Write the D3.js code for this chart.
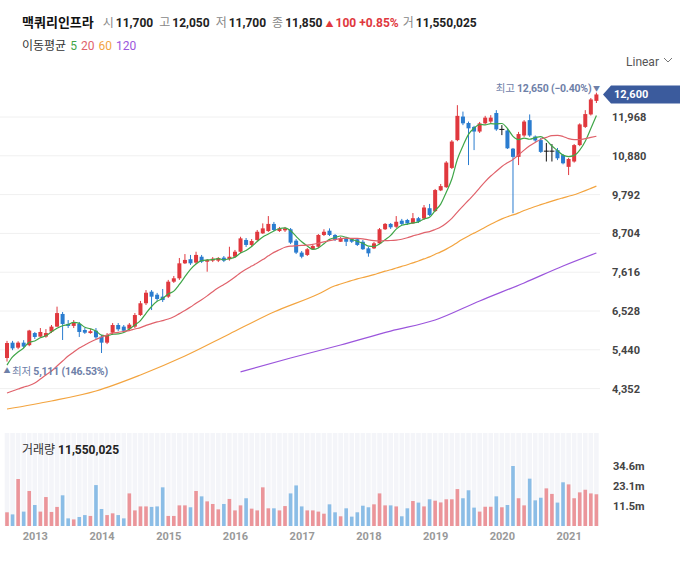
<!DOCTYPE html>
<html>
<head>
<meta charset="utf-8">
<script src="https://cdn.jsdelivr.net/npm/d3@7"></script>
<style>
  body { margin: 0; background: #fff; font-family: Roboto, "Noto Sans CJK KR", sans-serif; }
</style>
</head>
<body>
<div id="chart"></div>
<script>
// monthly candles, Aug 2012 .. Jun 2021
var firstMonth = new Date(2012, 7, 1);

// [open, high, low, close]
var candles = [
  [5210, 5690, 5111, 5630], [5640, 5690, 5430, 5480], [5500, 5680, 5460, 5640], [5640, 5710, 5490, 5530], [5570, 6000, 5540, 5980],
  // 2013
  [5910, 5940, 5745, 5800], [5810, 6050, 5785, 5940], [5810, 6020, 5780, 5910], [5950, 6135, 5910, 6090], [6090, 6650, 6080, 6470], [6445, 6500, 5715, 6165],
  [6165, 6275, 6050, 6110], [6110, 6275, 6050, 6220], [6165, 6220, 5800, 5940], [5995, 6050, 5885, 5920], [5910, 6030, 5890, 5960], [5975, 6050, 5745, 5790],
  // 2014
  [5810, 5855, 5350, 5640], [5640, 5910, 5600, 5855], [5920, 6190, 5855, 6135], [6135, 6190, 5965, 6015], [6090, 6135, 5940, 5975], [6030, 6190, 5995, 6145],
  [6090, 6470, 6050, 6415], [6415, 6810, 6390, 6745], [6745, 7115, 6695, 7040], [7070, 7115, 6555, 6930], [6985, 7035, 6810, 6865], [6930, 7145, 6780, 6835],
  // 2015
  [6930, 7400, 6895, 7350], [7350, 7510, 7315, 7445], [7445, 8015, 7400, 7865], [7865, 8125, 7845, 7960], [7980, 8100, 7820, 7865], [7885, 8190, 7845, 8100],
  [8050, 8100, 7875, 7910], [7910, 7985, 7630, 7960], [7940, 8040, 7900, 7995], [7940, 8040, 7900, 8015], [8025, 8070, 7900, 7940], [7980, 8330, 7940, 8050],
  // 2016
  [8050, 8240, 8015, 8190], [8190, 8610, 8155, 8565], [8520, 8575, 8325, 8380], [8380, 8545, 8325, 8490], [8520, 8800, 8490, 8750], [8705, 8985, 8690, 8845],
  [8770, 9190, 8745, 8970], [8970, 9025, 8770, 8800], [8770, 8885, 8745, 8845], [8790, 8885, 8745, 8845], [8820, 8855, 8405, 8445], [8500, 8545, 8125, 8165],
  // 2017
  [8165, 8210, 8005, 8050], [8100, 8295, 8070, 8260], [8260, 8380, 8240, 8350], [8330, 8685, 8295, 8660], [8660, 8820, 8630, 8750], [8780, 8845, 8630, 8660],
  [8660, 8685, 8490, 8520], [8470, 8605, 8465, 8565], [8565, 8605, 8350, 8470], [8540, 8575, 8435, 8470], [8540, 8575, 8350, 8380], [8470, 8520, 8240, 8260],
  // 2018
  [8285, 8325, 8050, 8145], [8285, 8465, 8265, 8425], [8425, 8855, 8405, 8820], [8820, 8995, 8800, 8970], [8970, 8995, 8830, 8875], [8890, 9190, 8855, 9030],
  [9060, 9110, 8940, 8970], [9080, 9110, 8940, 8985], [8985, 9275, 8970, 9130], [9130, 9165, 8995, 9030], [9120, 9500, 9080, 9430], [9410, 9530, 9190, 9220],
  // 2019
  [9330, 9950, 9305, 9920], [9910, 10090, 9890, 10030], [10000, 10730, 9980, 10690], [10540, 11320, 10510, 11280], [11320, 12300, 11290, 12000], [11980, 12120, 11740, 11790],
  [11800, 11840, 10620, 11650], [11690, 11720, 11040, 11560], [11560, 11830, 11520, 11790], [11790, 12000, 11760, 11950], [11840, 12020, 11800, 11950], [12080, 12160, 11580, 11620],
  // 2020
  [11620, 11740, 11460, 11620], [11590, 11630, 11070, 11090], [11080, 11100, 9270, 10850], [10850, 11550, 10620, 11490], [11450, 11880, 11410, 11840], [11880, 12040, 11410, 11450],
  [11420, 11450, 11270, 11310], [11320, 11380, 10960, 10990], [11010, 11240, 10720, 11010], [11010, 11210, 10720, 11010], [11040, 11100, 10760, 10810], [10900, 10930, 10640, 10670],
  // 2021
  [10570, 10820, 10340, 10790], [10720, 11210, 10690, 11180], [11180, 11790, 11150, 11760], [11690, 12160, 11660, 12050], [12040, 12500, 12010, 12460], [12420, 12650, 12360, 12600]
];

// volume in millions
var volumes = [
  7.9, 6.7, 27.1, 8.3, 20.2,
  12.1, 8.3, 16.7, 8.1, 11.0, 17.7, 4.4, 3.8, 5.2, 6.3, 5.8, 23.6,
  9.8, 6.3, 7.3, 6.3, 4.4, 18.8, 9.0, 11.3, 11.3, 11.0, 11.3, 22.3,
  5.8, 5.8, 11.9, 11.9, 10.8, 20.2, 17.1, 14.2, 12.7, 9.6, 12.7, 15.6,
  9.0, 11.9, 16.0, 10.0, 9.0, 22.3, 10.2, 10.2, 9.0, 11.5, 18.8, 23.4,
  11.3, 9.0, 9.0, 8.3, 7.1, 12.5, 7.9, 5.6, 10.2, 5.4, 7.9, 11.7,
  10.8, 12.5, 18.8, 11.9, 11.9, 11.3, 5.6, 10.2, 14.4, 13.5, 11.3, 15.4,
  14.6, 13.6, 15.4, 15.4, 21.3, 16.0, 20.6, 10.6, 8.3, 11.1, 11.1, 17.1,
  10.8, 12.1, 34.6, 16.0, 11.9, 27.3, 14.8, 16.3, 21.7, 18.5, 13.5, 25.2,
  24.0, 16.0, 19.4, 20.9, 18.8, 18.3
];

// moving-average values before enough bars are on screen
var ma5Head = [5010, 5240, 5380, 5490];
var ma20Head = [4230, 4285, 4340, 4395, 4440, 4510, 4620, 4735, 4845, 4985, 5125, 5265, 5380, 5490, 5575, 5660, 5730, 5800, 5855];
var ma60HeadBars = [0, 8, 16, 24, 32, 40, 48, 56];
var ma60HeadVals = [3780, 4005, 4285, 4735, 5265, 5885, 6500, 7005];
var ma120Bars = [42, 51, 60, 69, 77, 85, 93, 100, 106];
var ma120Vals = [4820, 5210, 5575, 5965, 6275, 6810, 7315, 7790, 8155];

var priceTicks = [4352, 5440, 6528, 7616, 8704, 9792, 10880, 11968];
var volumeTicks = [11.5, 23.1, 34.6];

var maNames = ["5", "20", "60", "120"];
var maColors = ["#3fa648", "#e0626b", "#f3a43f", "#9b55dc"];

var upColor = "#e0383e", downColor = "#2a7ccf";
var upVol = "#eb959a", downVol = "#8bbde6";

var W = 680, H = 571;
var svg = d3.select("#chart").append("svg").attr("width", W).attr("height", H)
  .style("font-family", 'Roboto, "Noto Sans CJK KR", sans-serif');

var n = candles.length;
var x = d3.scaleLinear().domain([0, n - 1]).range([7, 596.4]);
var y = d3.scaleLinear().domain([4352, 11968]).range([388.6, 117]);
var yv = d3.scaleLinear().domain([0, 34.6]).range([526, 466]);

// header
var head = svg.append("text").attr("x", 22).attr("y", 27).style("font-size", "12px");
head.append("tspan").text("맥쿼리인프라").style("font-weight", "bold").style("font-size", "13px").attr("fill", "#111");
[["시", "11,700"], ["고", "12,050"], ["저", "11,700"], ["종", "11,850"]].forEach(function(p, i) {
  head.append("tspan").attr("dx", i == 0 ? 9 : 6).attr("fill", "#888").text(p[0]);
  head.append("tspan").attr("dx", 2).attr("fill", "#222").style("font-weight", "bold").text(p[1]);
});
head.append("tspan").attr("dx", 3).attr("fill", upColor).style("font-size", "8px").text("▲");
head.append("tspan").attr("dx", 2).attr("fill", upColor).style("font-weight", "bold").text("100 +0.85%");
head.append("tspan").attr("dx", 4).attr("fill", "#888").text("거");
head.append("tspan").attr("dx", 2).attr("fill", "#222").style("font-weight", "bold").text("11,550,025");

// legend
var leg = svg.append("text").attr("x", 22).attr("y", 50).style("font-size", "12px");
leg.append("tspan").attr("fill", "#333").text("이동평균");
maNames.forEach(function(m, i) {
  leg.append("tspan").attr("dx", 4).attr("fill", maColors[i]).text(m);
});

// Linear selector
svg.append("text").attr("x", 626).attr("y", 66).style("font-size", "12px").attr("fill", "#555").text("Linear");
svg.append("path").attr("d", "M664,58 L668,62 L672,58").attr("fill", "none").attr("stroke", "#777").attr("stroke-width", 1);

// price grid
svg.append("g").selectAll("line").data(priceTicks).enter().append("line")
  .attr("x1", 0).attr("x2", 600)
  .attr("y1", d => y(d)).attr("y2", d => y(d))
  .attr("stroke", "#f0f0f0");

// price axis
var pAxis = svg.append("g").attr("transform", "translate(612,0)")
  .call(d3.axisRight(y).tickValues(priceTicks).tickSize(0).tickPadding(0).tickFormat(d3.format(",")));
pAxis.select(".domain").remove();
pAxis.selectAll("text").style("font-size", "11px").style("font-weight", "bold").attr("fill", "#444")
  .style("font-family", 'Roboto, "Noto Sans CJK KR", sans-serif');

var line = d3.line().x(d => x(d[0])).y(d => y(d[1])).curve(d3.curveMonotoneX);

function movingAvg(len, i) {
  var s = 0;
  for (var k = i - len + 1; k <= i; k++) s += candles[k][3];
  return s / len;
}

var ma5 = [], ma20 = [], ma60 = [], ma120 = [];
candles.forEach(function(c, i) {
  ma5.push([i, i < 4 ? ma5Head[i] : movingAvg(5, i)]);
  ma20.push([i, i < 19 ? ma20Head[i] : movingAvg(20, i)]);
  if (i >= 59) ma60.push([i, movingAvg(60, i)]);
});
ma60 = ma60HeadBars.map((b, k) => [b, ma60HeadVals[k]]).concat(ma60);
ma120 = ma120Bars.map((b, k) => [b, ma120Vals[k]]);

// candles
var cg = svg.append("g");
candles.forEach(function(c, i) {
  var o = c[0], h = c[1], l = c[2], cl = c[3];
  var col = cl > o ? upColor : (cl < o ? downColor : "#111");
  cg.append("line").attr("x1", x(i)).attr("x2", x(i)).attr("y1", y(h)).attr("y2", y(l))
    .attr("stroke", col).attr("stroke-width", 1);
  if (cl == o) {
    cg.append("line").attr("x1", x(i) - 2.5).attr("x2", x(i) + 2.5).attr("y1", y(o)).attr("y2", y(o))
      .attr("stroke", col).attr("stroke-width", 1);
  } else {
    var top = y(Math.max(o, cl)), bot = y(Math.min(o, cl));
    cg.append("rect").attr("x", x(i) - 2).attr("width", 4).attr("y", top).attr("height", Math.max(1, bot - top))
      .attr("fill", col);
  }
});

// MA lines
[ma5, ma20, ma60, ma120].forEach(function(pts, k) {
  svg.append("path").datum(pts).attr("d", line).attr("fill", "none")
    .attr("stroke", maColors[k]).attr("stroke-width", 1.2);
});

// highest / lowest labels
var hiIdx = d3.maxIndex(candles, c => c[1]);
var loIdx = d3.minIndex(candles, c => c[2]);
var last = candles[n - 1][3];
var hi = candles[hiIdx][1], lo = candles[loIdx][2];
var pct = d3.format(".2f");
var lab = "#6e80a8";

var hiText = svg.append("text").attr("x", x(hiIdx) - 5).attr("y", y(hi) - 1).attr("text-anchor", "end")
  .style("font-size", "10.5px").style("letter-spacing", "-0.2px").attr("fill", lab);
hiText.append("tspan").text("최고 ");
hiText.append("tspan").style("font-weight", "bold").text(d3.format(",")(hi) + " (" + pct((last / hi - 1) * 100) + "%)");
svg.append("text").attr("x", x(hiIdx)).attr("y", y(hi) - 2).attr("text-anchor", "middle")
  .style("font-size", "7px").attr("fill", lab).text("▼");

svg.append("text").attr("x", x(loIdx)).attr("y", y(lo) + 11).attr("text-anchor", "middle")
  .style("font-size", "7px").attr("fill", lab).text("▲");
var loText = svg.append("text").attr("x", x(loIdx) + 5).attr("y", y(lo) + 13)
  .style("font-size", "10.5px").style("letter-spacing", "-0.2px").attr("fill", lab);
loText.append("tspan").text("최저 ");
loText.append("tspan").style("font-weight", "bold").text(d3.format(",")(lo) + " (" + pct((last / lo - 1) * 100) + "%)");

// last price tag
var yc = y(last);
svg.append("path")
  .attr("d", "M603," + yc + " L611," + (yc - 9) + " L680," + (yc - 9) + " L680," + (yc + 9) + " L611," + (yc + 9) + " Z")
  .attr("fill", "#3b5b9d");
svg.append("text").attr("x", 614).attr("y", yc + 4).style("font-size", "11px").style("font-weight", "bold")
  .attr("fill", "#fff").text(d3.format(",")(last));

// volume panel
svg.append("g").selectAll("rect").data(candles).enter().append("rect")
  .attr("x", (d, i) => x(i) - 2.3).attr("width", 4.6)
  .attr("y", 433).attr("height", 93)
  .attr("fill", "#f4f5f9");

svg.append("g").selectAll("rect").data(volumes).enter().append("rect")
  .attr("x", (d, i) => x(i) - 1.8).attr("width", 3.6)
  .attr("y", d => yv(d)).attr("height", d => yv(0) - yv(d))
  .attr("fill", (d, i) => candles[i][3] >= candles[i][0] ? upVol : downVol);

var vLab = svg.append("text").attr("x", 22).attr("y", 454).style("font-size", "12px");
vLab.append("tspan").attr("fill", "#333").text("거래량 ");
vLab.append("tspan").attr("fill", "#222").style("font-weight", "bold").text("11,550,025");

var vAxis = svg.append("g").attr("transform", "translate(613,0)")
  .call(d3.axisRight(yv).tickValues(volumeTicks).tickSize(0).tickPadding(0).tickFormat(d => d + "m"));
vAxis.select(".domain").remove();
vAxis.selectAll("text").style("font-size", "11px").style("font-weight", "bold").attr("fill", "#444")
  .style("font-family", 'Roboto, "Noto Sans CJK KR", sans-serif');

// year axis
var janIdx = d3.range(n).filter(i => d3.timeMonth.offset(firstMonth, i).getMonth() == 0);
var xAxis = svg.append("g").attr("transform", "translate(0,532)")
  .call(d3.axisBottom(x).tickValues(janIdx).tickSize(0).tickPadding(0)
    .tickFormat(i => d3.timeMonth.offset(firstMonth, i).getFullYear()));
xAxis.select(".domain").remove();
xAxis.selectAll("text").style("font-size", "11px").style("font-weight", "bold").attr("fill", "#999")
  .style("font-family", 'Roboto, "Noto Sans CJK KR", sans-serif');
</script>
</body>
</html>
